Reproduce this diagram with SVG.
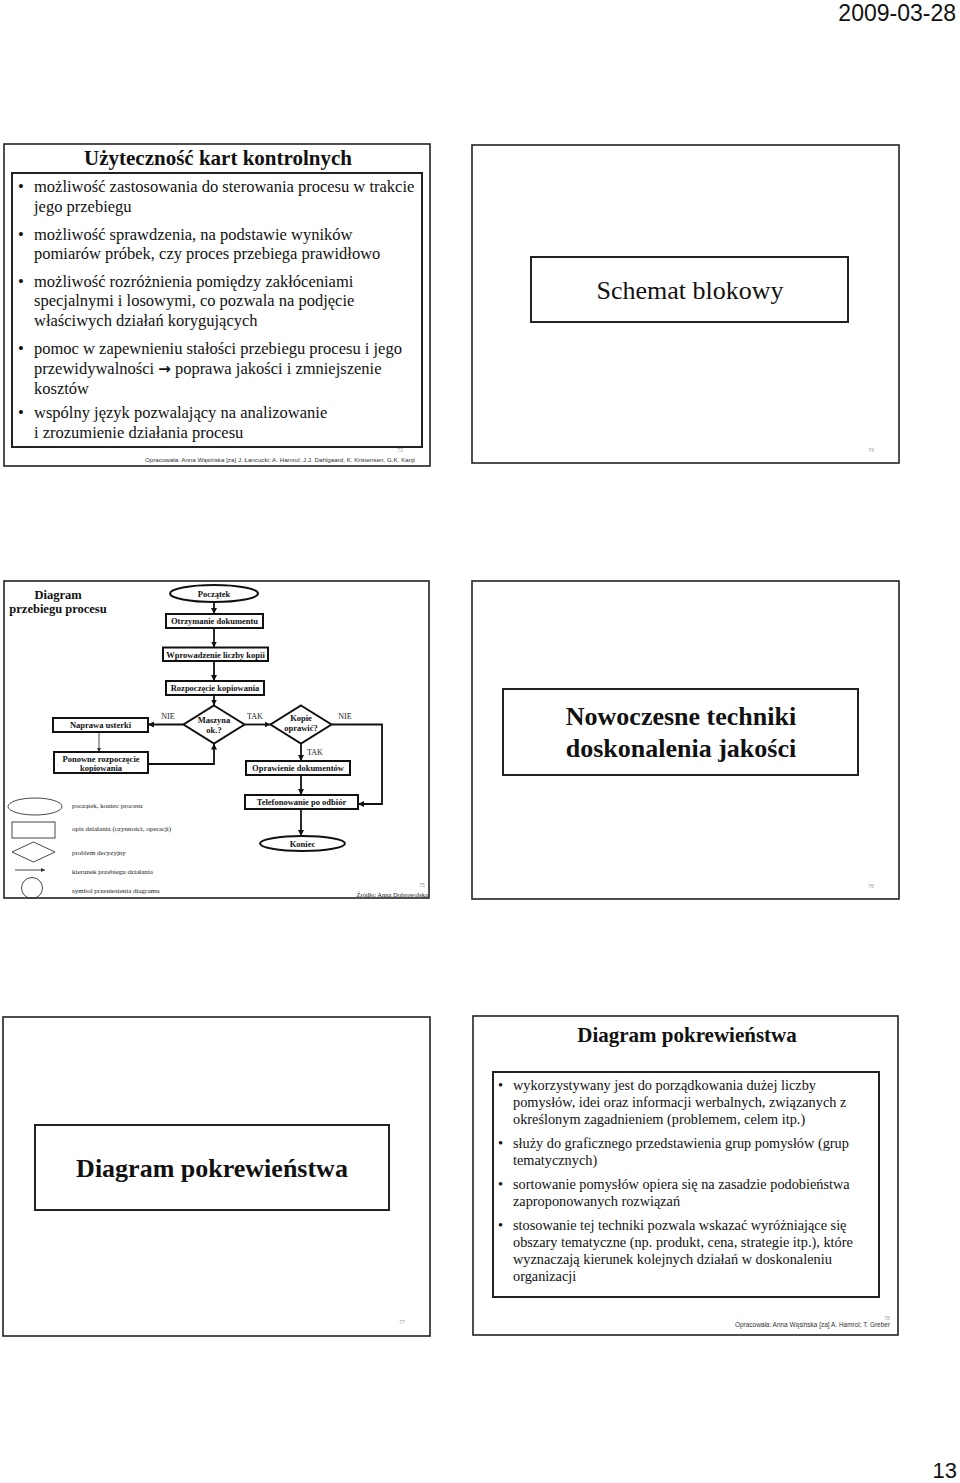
<svg xmlns="http://www.w3.org/2000/svg" width="960" height="1483" viewBox="0 0 960 1483">
<style>
.slide{fill:#fff;stroke:#222;stroke-width:1.6}
.inner{fill:#fff;stroke:#222;stroke-width:2}
.serif{font-family:"Liberation Serif","Times New Roman",serif;fill:#111}
.sans{font-family:"Liberation Sans",Arial,sans-serif;fill:#111}
.body{font-size:16.5px}
.body2{font-size:14.3px}
.fc{fill:#fff;stroke:#111;stroke-width:2}
.fct{font-family:"Liberation Serif","Times New Roman",serif;font-size:8.5px;font-weight:bold;fill:#111;text-anchor:middle}
.lbl{font-family:"Liberation Serif","Times New Roman",serif;font-size:8px;fill:#222;text-anchor:middle}
.leg{fill:none;stroke:#333;stroke-width:0.9}
.legt{font-family:"Liberation Serif","Times New Roman",serif;font-size:7px;fill:#222}
.conn{fill:none;stroke:#111;stroke-width:1.8}
.pg{font-family:"Liberation Sans",Arial,sans-serif;font-size:5px;fill:#999;text-anchor:middle}
.foot{font-family:"Liberation Sans",Arial,sans-serif;fill:#333}
</style>
<defs>
<marker id="ah" markerUnits="userSpaceOnUse" markerWidth="6" markerHeight="6" viewBox="0 0 6 6" refX="6" refY="3" orient="auto">
<path d="M0,0 L6,3 L0,6 z" fill="#111"/>
</marker>
<marker id="ahs" markerUnits="userSpaceOnUse" markerWidth="4" markerHeight="4" viewBox="0 0 6 6" refX="6" refY="3" orient="auto">
<path d="M0,0 L6,3 L0,6 z" fill="#333"/>
</marker>
</defs>
<rect width="960" height="1483" fill="#fff"/>

<text x="956" y="21" class="sans" font-size="23" text-anchor="end">2009-03-28</text>
<text x="957" y="1478" class="sans" font-size="22" text-anchor="end">13</text>

<!-- Slide 73 -->
<g id="slide73">
<rect x="4" y="144" width="426" height="322" class="slide"/>
<text x="218" y="165" class="serif" font-size="21" font-weight="bold" text-anchor="middle">Użyteczność kart kontrolnych</text>
<rect x="12" y="173" width="410" height="274" class="inner"/>
<g class="serif body">
<text x="18" y="192">•</text><text x="34" y="192">możliwość zastosowania do sterowania procesu w trakcie</text>
<text x="34" y="212">jego przebiegu</text>
<text x="18" y="240">•</text><text x="34" y="240">możliwość sprawdzenia, na podstawie wyników</text>
<text x="34" y="259">pomiarów próbek, czy proces przebiega prawidłowo</text>
<text x="18" y="287">•</text><text x="34" y="287">możliwość rozróżnienia pomiędzy zakłóceniami</text>
<text x="34" y="306">specjalnymi i losowymi, co pozwala na podjęcie</text>
<text x="34" y="326">właściwych działań korygujących</text>
<text x="18" y="354">•</text><text x="34" y="354">pomoc w zapewnieniu stałości przebiegu procesu i jego</text>
<text x="34" y="374">przewidywalności <tspan font-family="DejaVu Sans, sans-serif" font-size="15" font-weight="bold">→</tspan> poprawa jakości i zmniejszenie</text>
<text x="34" y="394">kosztów</text>
<text x="18" y="418">•</text><text x="34" y="418">wspólny język pozwalający na analizowanie</text>
<text x="34" y="438">i zrozumienie działania procesu</text>
</g>
<text x="400" y="452" class="pg">73</text>
<text x="145" y="462" class="foot" font-size="6" textLength="270" lengthAdjust="spacingAndGlyphs">Opracowała: Anna Wąsińska [za] J. Łancucki; A. Hamrol; J.J. Dahlgaard, K. Kristensen, G.K. Kanji</text>
</g>

<!-- Slide 74 -->
<g id="slide74">
<rect x="472" y="145" width="427" height="318" class="slide"/>
<rect x="531" y="257" width="317" height="65" class="inner"/>
<text x="690" y="299" class="serif" font-size="26" text-anchor="middle">Schemat blokowy</text>
<text x="871" y="452" class="pg">74</text>
</g>

<!-- Slide 75 -->
<g id="slide75">
<rect x="4" y="581" width="425" height="317" class="slide"/>
<text x="58" y="599" class="serif" font-size="12.5" font-weight="bold" text-anchor="middle">Diagram</text>
<text x="58" y="613" class="serif" font-size="12.5" font-weight="bold" text-anchor="middle">przebiegu procesu</text>

<g id="connectors">
<line x1="214" y1="602" x2="214" y2="614" class="conn" marker-end="url(#ah)"/>
<line x1="214" y1="628" x2="214" y2="647.5" class="conn" marker-end="url(#ah)"/>
<line x1="214" y1="661" x2="214" y2="681" class="conn" marker-end="url(#ah)"/>
<line x1="214" y1="695" x2="214" y2="705.5" class="conn" marker-end="url(#ah)"/>
<line x1="183.5" y1="724.5" x2="148" y2="724.5" class="conn" marker-end="url(#ah)"/>
<line x1="244.5" y1="724.5" x2="270.5" y2="724.5" class="conn" marker-end="url(#ah)"/>
<polyline points="331.5,724.5 382,724.5 382,804 358,804" class="conn" marker-end="url(#ah)"/>
<line x1="301" y1="743.5" x2="301" y2="761" class="conn" marker-end="url(#ah)"/>
<line x1="301" y1="775" x2="301" y2="795" class="conn" marker-end="url(#ah)"/>
<line x1="301" y1="809" x2="301" y2="836" class="conn" marker-end="url(#ah)"/>
<line x1="99" y1="732" x2="99" y2="752" stroke="#333" stroke-width="0.9" marker-end="url(#ahs)"/>
<polyline points="148,764 214,764 214,743.5" class="conn" marker-end="url(#ah)"/>
<text x="168" y="719" class="lbl">NIE</text>
<text x="255" y="719" class="lbl">TAK</text>
<text x="345" y="719" class="lbl">NIE</text>
<text x="315" y="755" class="lbl">TAK</text>
</g>

<g id="n-poczatek">
<ellipse cx="214" cy="593.5" rx="44" ry="8.5" class="fc"/>
<text x="214" y="596.5" class="fct">Początek</text>
</g>
<g id="n-otrzymanie">
<rect x="166" y="614" width="97" height="14" class="fc"/>
<text x="214.5" y="624" class="fct">Otrzymanie dokumentu</text>
</g>
<g id="n-wprowadzenie">
<rect x="163" y="647.5" width="105" height="13.5" class="fc"/>
<text x="215.5" y="657.5" class="fct">Wprowadzenie liczby kopii</text>
</g>
<g id="n-rozpoczecie">
<rect x="166" y="681" width="98" height="14" class="fc"/>
<text x="215" y="691" class="fct">Rozpoczęcie kopiowania</text>
</g>
<g id="n-maszyna">
<polygon points="214,705.5 244.5,724.5 214,743.5 183.5,724.5" class="fc"/>
<text x="214" y="723" class="fct">Maszyna</text>
<text x="214" y="733" class="fct">ok.?</text>
</g>
<g id="n-kopie">
<polygon points="301,705.5 331.5,724.5 301,743.5 270.5,724.5" class="fc"/>
<text x="301" y="721" class="fct">Kopie</text>
<text x="301" y="731" class="fct">oprawić?</text>
</g>
<g id="n-naprawa">
<rect x="53" y="718" width="95" height="14" class="fc"/>
<text x="100.5" y="728" class="fct">Naprawa usterki</text>
</g>
<g id="n-ponowne">
<rect x="54" y="752" width="94" height="21" class="fc"/>
<text x="101" y="761.5" class="fct">Ponowne rozpoczęcie</text>
<text x="101" y="770.5" class="fct">kopiowania</text>
</g>
<g id="n-oprawienie">
<rect x="246" y="761" width="104" height="14" class="fc"/>
<text x="298" y="771" class="fct">Oprawienie dokumentów</text>
</g>
<g id="n-telefonowanie">
<rect x="245" y="795" width="113" height="14" class="fc"/>
<text x="301.5" y="805" class="fct">Telefonowanie po odbiór</text>
</g>
<g id="n-koniec">
<ellipse cx="302.5" cy="843.5" rx="42.5" ry="7.5" class="fc"/>
<text x="302.5" y="846.5" class="fct">Koniec</text>
</g>

<g id="legend">
<ellipse cx="35" cy="806.5" rx="27" ry="8.5" class="leg"/>
<text x="72" y="808" class="legt">początek, koniec procesu</text>
<rect x="12" y="822" width="43" height="16" class="leg"/>
<text x="72" y="831" class="legt">opis działania  (czynności, operacji)</text>
<polygon points="33.5,842 55,852 33.5,862 12,852" class="leg"/>
<text x="72" y="855" class="legt">problem decyzyjny</text>
<line x1="15" y1="870" x2="45" y2="870" stroke="#333" stroke-width="0.9" marker-end="url(#ahs)"/>
<text x="72" y="874" class="legt">kierunek przebiegu działania</text>
<circle cx="32" cy="888" r="10.5" class="leg"/>
<text x="72" y="893" class="legt">symbol przeniesienia  diagramu</text>
</g>
<text x="422" y="887" class="pg">75</text>
<text x="428" y="897" class="serif" font-size="6.5" fill="#444" text-anchor="end">Źródło:  Anna  Dobrowolska</text>
</g>

<!-- Slide 76 -->
<g id="slide76">
<rect x="472" y="581" width="427" height="318" class="slide"/>
<rect x="503" y="689" width="355" height="86" class="inner"/>
<text x="681" y="725" class="serif" font-size="26" font-weight="bold" text-anchor="middle">Nowoczesne techniki</text>
<text x="681" y="757" class="serif" font-size="26" font-weight="bold" text-anchor="middle">doskonalenia jakości</text>
<text x="871" y="888" class="pg">76</text>
</g>

<!-- Slide 77 -->
<g id="slide77">
<rect x="3" y="1017" width="427" height="319" class="slide"/>
<rect x="35" y="1125" width="354" height="85" class="inner"/>
<text x="212" y="1177" class="serif" font-size="26" font-weight="bold" text-anchor="middle">Diagram pokrewieństwa</text>
<text x="402" y="1324" class="pg">77</text>
</g>

<!-- Slide 78 -->
<g id="slide78">
<rect x="473" y="1016" width="425" height="319" class="slide"/>
<text x="687" y="1042" class="serif" font-size="21" font-weight="bold" text-anchor="middle">Diagram pokrewieństwa</text>
<rect x="493" y="1072" width="386" height="225" class="inner"/>
<g class="serif body2">
<text x="498" y="1090">•</text><text x="513" y="1090">wykorzystywany jest do porządkowania dużej liczby</text>
<text x="513" y="1107">pomysłów, idei oraz informacji werbalnych, związanych z</text>
<text x="513" y="1124">określonym zagadnieniem (problemem, celem itp.)</text>
<text x="498" y="1148">•</text><text x="513" y="1148">służy do graficznego przedstawienia grup pomysłów (grup</text>
<text x="513" y="1165">tematycznych)</text>
<text x="498" y="1189">•</text><text x="513" y="1189">sortowanie pomysłów opiera się na zasadzie podobieństwa</text>
<text x="513" y="1206">zaproponowanych rozwiązań</text>
<text x="498" y="1230">•</text><text x="513" y="1230">stosowanie tej techniki pozwala wskazać wyróżniające się</text>
<text x="513" y="1247">obszary tematyczne (np. produkt, cena, strategie itp.), które</text>
<text x="513" y="1264">wyznaczają kierunek kolejnych działań w doskonaleniu</text>
<text x="513" y="1281">organizacji</text>
</g>
<text x="887" y="1320" class="pg">78</text>
<text x="735" y="1327" class="foot" font-size="6.5" textLength="155" lengthAdjust="spacingAndGlyphs">Opracowała: Anna Wąsińska [za] A. Hamrol; T. Greber</text>
</g>
</svg>
